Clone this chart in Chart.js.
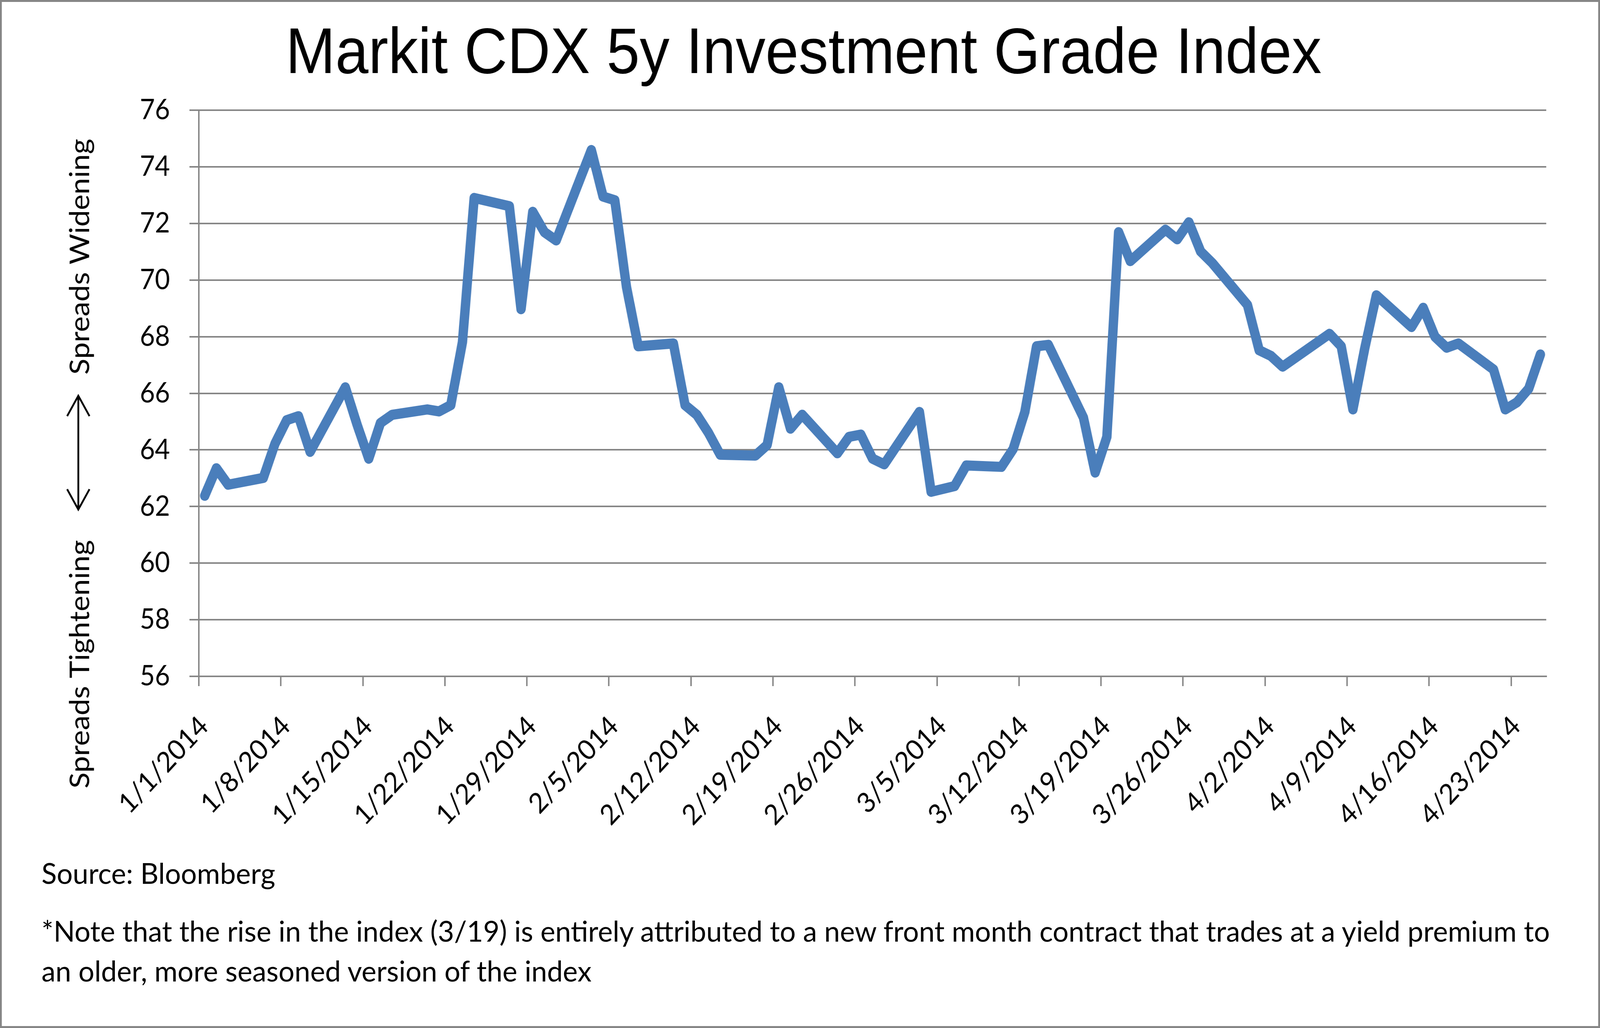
<!DOCTYPE html>
<html>
<head>
<meta charset="utf-8">
<title>Markit CDX 5y Investment Grade Index</title>
<script src="https://cdn.jsdelivr.net/npm/chart.js@4.4.1/dist/chart.umd.min.js"></script>
<style>
    html, body { margin: 0; padding: 0; background: #fff; overflow: hidden; }
    #wrap { position: absolute; left: 0; top: 0; width: 4434px; height: 2631px; transform-origin: 0 0; }
    #chart { position: absolute; left: 0; top: 0; }
    #frame { position: absolute; left: 0; top: 0; width: 4434px; height: 2631px;
             box-sizing: border-box; border: 5px solid #868686; pointer-events: none; }
    .note { position: absolute; left: 115px; font-family: Lato, sans-serif; font-size: 74px;
            color: #000; white-space: nowrap; transform-origin: 0 0; }
    #source { top: 2190px; line-height: 1.2; }
    #footnote { top: 2331px; line-height: 102px; }
</style>
</head>
<body>
<div id="wrap">
    <canvas id="chart" width="4434" height="2631"></canvas>
    <div id="source" class="note">Source: Bloomberg</div>
    <div id="footnote" class="note">*Note that the rise in the index (3/19) is entirely attributed to a new front month contract that trades at a yield premium to<br>an older, more seasoned version of the index</div>
    <div id="frame"></div>
</div>
<script>
const dates = [
    '1/1', '1/2', '1/3', '1/6', '1/7', '1/8', '1/9', '1/10', '1/13', '1/14',
    '1/15', '1/16', '1/17', '1/20', '1/21', '1/22', '1/23', '1/24', '1/27', '1/28',
    '1/29', '1/30', '1/31', '2/3', '2/4', '2/5', '2/6', '2/7', '2/10', '2/11',
    '2/12', '2/13', '2/14', '2/17', '2/18', '2/19', '2/20', '2/21', '2/24', '2/25',
    '2/26', '2/27', '2/28', '3/3', '3/4', '3/5', '3/6', '3/7', '3/10', '3/11',
    '3/12', '3/13', '3/14', '3/17', '3/18', '3/19', '3/20', '3/21', '3/24', '3/25',
    '3/26', '3/27', '3/28', '3/31', '4/1', '4/2', '4/3', '4/4', '4/7', '4/8',
    '4/9', '4/10', '4/11', '4/14', '4/15', '4/16', '4/17', '4/18', '4/21', '4/22',
    '4/23', '4/24', '4/25'
];

const spreads = [
    62.38, 63.35, 62.77, 63.01, 64.22, 65.05, 65.19, 63.93, 66.21, 64.90,
    63.69, 64.95, 65.24, 65.43, 65.36, 65.58, 67.81, 72.90, 72.61, 68.97,
    72.41, 71.69, 71.40, 74.59, 72.95, 72.82, 69.75, 67.66, 67.76, 65.58,
    65.24, 64.60, 63.83, 63.80, 64.17, 66.21, 64.75, 65.24, 63.88, 64.46,
    64.54, 63.69, 63.49, 65.34, 62.52, 62.62, 62.72, 63.45, 63.40, 64.03,
    65.34, 67.66, 67.71, 65.14, 63.20, 64.46, 71.69, 70.67, 71.78, 71.44,
    72.04, 71.01, 70.60, 69.12, 67.52, 67.32, 66.94, 67.23, 68.10, 67.66,
    65.43, 67.57, 69.46, 68.34, 69.02, 68.00, 67.61, 67.76, 66.84, 65.43,
    65.68, 66.16, 67.37
];

const tickLabels = [
    '1/1/2014', '1/8/2014', '1/15/2014', '1/22/2014', '1/29/2014', '2/5/2014',
    '2/12/2014', '2/19/2014', '2/26/2014', '3/5/2014', '3/12/2014', '3/19/2014',
    '3/26/2014', '4/2/2014', '4/9/2014', '4/16/2014', '4/23/2014'
];

const yTicks = [56, 58, 60, 62, 64, 66, 68, 70, 72, 74, 76];

const chartTitle = 'Markit CDX 5y Investment Grade Index';

// days since 1/1/2014, each point sits in the middle of its day
function dayIndex(md) {
    const [m, d] = md.split('/').map(Number);
    return Math.round((Date.UTC(2014, m - 1, d) - Date.UTC(2014, 0, 1)) / 86400000);
}

const points = dates.map((d, i) => ({ x: dayIndex(d) + 0.5, y: spreads[i] }));

const gridGray = '#868686';
const labelFont = { family: 'Lato', size: 72 };

// title, rotated y-axis captions and the double arrow between them
const decorations = {
    id: 'decorations',
    afterDraw(chart) {
        const ctx = chart.ctx;
        ctx.save();
        ctx.fillStyle = '#000';
        ctx.textAlign = 'center';
        ctx.textBaseline = 'alphabetic';

        ctx.font = '165px "Liberation Sans"';
        ctx.fillText(chartTitle, 2227, 187, 2899);

        ctx.font = '76px Lato';
        [['Spreads Widening', 657, 609], ['Spreads Tightening', 1700, 640]].forEach(([txt, cy, w]) => {
            ctx.save();
            ctx.translate(247, cy);
            ctx.rotate(-Math.PI / 2);
            ctx.fillText(txt, 0, 0, w);
            ctx.restore();
        });

        const x = 217, top = 1013, bottom = 1304;
        ctx.strokeStyle = '#000';
        ctx.lineWidth = 5;
        ctx.beginPath();
        ctx.moveTo(x, top);
        ctx.lineTo(x, bottom);
        ctx.moveTo(x - 31, top + 52);
        ctx.lineTo(x, top);
        ctx.lineTo(x + 31, top + 52);
        ctx.moveTo(x - 31, bottom - 52);
        ctx.lineTo(x, bottom);
        ctx.lineTo(x + 31, bottom - 52);
        ctx.stroke();
        ctx.restore();
    }
};

function renderChart() {
    const ctx = document.getElementById('chart').getContext('2d');
    new Chart(ctx, {
        type: 'line',
        data: {
            datasets: [{
                label: 'Markit CDX 5y IG',
                data: points,
                borderColor: '#4a7ebb',
                borderWidth: 26,
                borderJoinStyle: 'round',
                borderCapStyle: 'round',
                pointRadius: 0,
                tension: 0,
                fill: false
            }]
        },
        options: {
            responsive: false,
            animation: false,
            devicePixelRatio: 1,
            layout: { padding: { left: 0, right: 149, top: 282, bottom: 400 } },
            plugins: {
                legend: { display: false },
                tooltip: { enabled: false },
                title: { display: false }
            },
            scales: {
                x: {
                    type: 'linear',
                    min: 0,
                    max: 115,
                    afterBuildTicks: scale => {
                        scale.ticks = tickLabels.map((t, i) => ({ value: i * 7 }));
                    },
                    afterFit: scale => { scale.height = 500; },
                    ticks: {
                        autoSkip: false,
                        minRotation: 45,
                        maxRotation: 45,
                        padding: 60,
                        labelOffset: 14,
                        color: '#000',
                        font: labelFont,
                        callback: (v, i) => tickLabels[i]
                    },
                    grid: {
                        drawOnChartArea: false,
                        drawTicks: true,
                        tickLength: 25,
                        color: gridGray,
                        lineWidth: 4
                    },
                    border: { display: true, color: gridGray, width: 4 }
                },
                y: {
                    min: 56,
                    max: 76,
                    afterBuildTicks: scale => {
                        scale.ticks = yTicks.map(v => ({ value: v }));
                    },
                    afterFit: scale => { scale.width = 551; },
                    ticks: {
                        padding: 54,
                        color: '#000',
                        font: labelFont
                    },
                    grid: {
                        color: gridGray,
                        lineWidth: 4,
                        tickLength: 26
                    },
                    border: { display: true, color: gridGray, width: 4 }
                }
            }
        },
        plugins: [decorations]
    });
}

let sx = 1, sy = 1;

// fit the 4434x2631 layout to whatever viewport the page gets
function fitPage() {
    const w = document.documentElement.clientWidth || window.innerWidth;
    const h = document.documentElement.clientHeight || window.innerHeight;
    sx = w / 4434;
    sy = h / 2631;
    document.getElementById('wrap').style.transform = `scale(${sx}, ${sy})`;
}

function fitNotes() {
    // squeeze the notes so the first footnote line spans the same width as the original
    const probe = document.createElement('span');
    probe.className = 'note';
    probe.style.visibility = 'hidden';
    probe.textContent = '*Note that the rise in the index (3/19) is entirely attributed to a new front month contract that trades at a yield premium to';
    document.getElementById('wrap').appendChild(probe);
    const k = 4180 / probe.getBoundingClientRect().width * sx;
    probe.remove();
    document.querySelectorAll('#wrap > .note').forEach(el => { el.style.transform = `scaleX(${k})`; });
}

document.addEventListener('DOMContentLoaded', () => {
    fitPage();
    document.fonts.ready.then(() => {
        renderChart();
        fitNotes();
    });
});
</script>
</body>
</html>
